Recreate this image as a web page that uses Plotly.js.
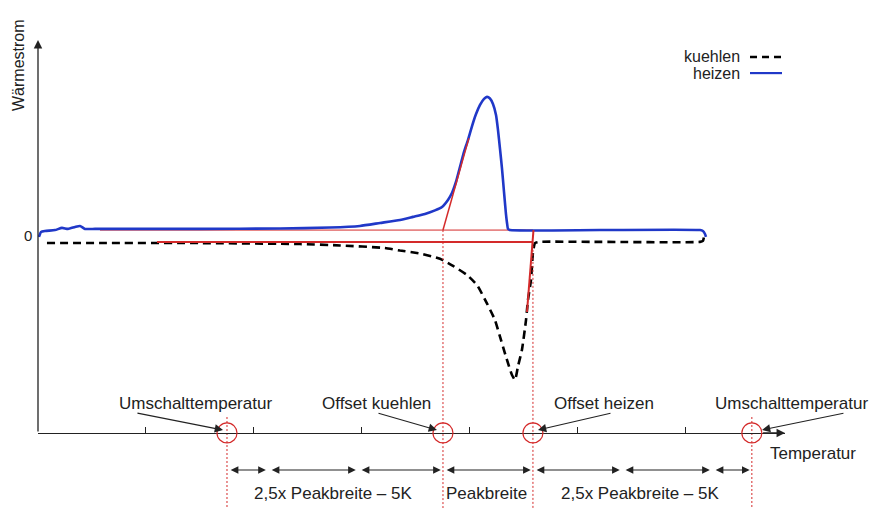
<!DOCTYPE html>
<html><head><meta charset="utf-8">
<script src="https://cdn.plot.ly/plotly-3.0.1.min.js"></script>
<style>html,body{margin:0;padding:0;background:#fff}#chart{width:872px;height:508px}</style>
</head><body><div id="chart"></div>
<script>
// Temperature axis (arbitrary units, 1 = one tick step) and heat flow (arbitrary units)
const heizenT = [0.009,0.028,0.065,0.157,0.222,0.278,0.343,0.389,0.435,0.528,0.759,1.5,2.241,2.704,2.981,3.167,3.352,3.472,3.583,3.676,3.741,3.796,3.833,3.870,3.907,3.944,3.981,4.019,4.056,4.093,4.130,4.157,4.185,4.213,4.241,4.259,4.278,4.296,4.315,4.333,4.343,4.352,4.370,5.204,6.130,6.157,6.176,6.185];
const heizenH = [-0.05,0.20,0.25,0.30,0.41,0.36,0.46,0.51,0.36,0.36,0.36,0.36,0.38,0.43,0.51,0.66,0.81,0.97,1.12,1.30,1.47,1.83,2.18,2.74,3.50,4.26,4.87,5.58,6.19,6.65,6.96,7.06,6.98,6.70,6.14,5.40,4.42,3.45,2.24,1.12,0.66,0.36,0.30,0.30,0.30,0.25,0.10,-0.05];
const kuehlenT = [0.083,0.574,1.5,2.426,2.796,3.213,3.352,3.537,3.722,3.843,3.972,4.065,4.157,4.231,4.278,4.333,4.389,4.417,4.444,4.481,4.519,4.537,4.565,4.583,4.602,4.648,5.204,6.130,6.157,6.167,6.176];
const kuehlenH = [-0.36,-0.36,-0.36,-0.41,-0.48,-0.61,-0.74,-0.89,-1.16,-1.52,-1.98,-2.49,-3.42,-4.26,-5.11,-6.12,-7.06,-7.31,-6.63,-5.79,-4.26,-3.25,-2.23,-0.86,-0.36,-0.30,-0.30,-0.30,-0.25,-0.05,0.10];
// construction lines
const baseHeizenT = [0.574, 4.583], baseHeizenH = [0.30, 0.30];
const baseKuehlenT = [1.102, 4.583], baseKuehlenH = [-0.30, -0.30];
const tanHeizenT = [3.75, 3.99], tanHeizenH = [0.30, 4.97];
const tanKuehlenT = [4.588, 4.528], tanKuehlenH = [0.30, -3.86];
// characteristic temperatures
const markT = [1.75, 3.75, 4.583, 6.61];
const markTop = [-9.19, 0.30, -0.30, -9.19];
const markNames = ["Umschalttemperatur", "Offset kuehlen", "Offset heizen", "Umschalttemperatur"];
// dimension segments
const segT = [1.75, 2.13, 2.963, 3.75, 4.583, 5.407, 6.241, 6.61];
const tickT = [1, 2, 3, 4, 5, 6];
const axisY = -10, dimY = -11.88, bottomY = -13.81, topY = 11.98, xMax = 6.917, yTop = 9.95;

const RED = '#d42a2a', BLUE = '#2038c8', INK = '#222';
const FONT = {family: 'Liberation Sans, Arial, sans-serif', size: 17, color: INK};

const dropX = [], dropY = [];
markT.forEach((t, i) => { dropX.push(t, t, null); dropY.push(markTop[i], bottomY, null); });

const traces = [
  {x: baseHeizenT, y: baseHeizenH, mode: 'lines', line: {color: RED, width: 1}},
  {x: kuehlenT, y: kuehlenH, mode: 'lines', line: {color: '#000', width: 2.6, dash: '8px,5px', shape: 'spline', smoothing: 0.5}},
  {x: baseKuehlenT, y: baseKuehlenH, mode: 'lines', line: {color: RED, width: 2}},
  {x: heizenT, y: heizenH, mode: 'lines', line: {color: BLUE, width: 2.6, shape: 'spline', smoothing: 0.5}},
  {x: tanHeizenT, y: tanHeizenH, mode: 'lines', line: {color: RED, width: 1.5}},
  {x: tanKuehlenT, y: tanKuehlenH, mode: 'lines', line: {color: RED, width: 2}},
  {x: dropX, y: dropY, mode: 'lines', line: {color: RED, width: 1, dash: '2px,2px'}}
];

const shapes = markT.map(t => ({
  type: 'circle', xref: 'x', yref: 'y', xsizemode: 'pixel', ysizemode: 'pixel',
  xanchor: t, yanchor: axisY, x0: -10, x1: 10, y0: -10, y1: 10,
  line: {color: RED, width: 1.2}
}));
// legend keys
shapes.push({type: 'line', xref: 'x', yref: 'y', x0: 6.593, x1: 6.889, y0: 9.09, y1: 9.09, line: {color: '#000', width: 2.6, dash: '7px,5px'}});
shapes.push({type: 'line', xref: 'x', yref: 'y', x0: 6.593, x1: 6.889, y0: 8.27, y1: 8.27, line: {color: BLUE, width: 2.2}});

const ann = [];
const arrow = (x, y, ax, ay, opts) => Object.assign({
  x: x, y: y, ax: ax, ay: ay, xref: 'x', yref: 'y', axref: 'x', ayref: 'y', text: '',
  showarrow: true, arrowhead: 2, arrowsize: 1.4, arrowwidth: 1.1, arrowcolor: INK, standoff: 0, startstandoff: 0
}, opts || {});
// axes arrows
ann.push(arrow(0, yTop, 0, axisY, {arrowwidth: 1.3, arrowsize: 1.3}));
ann.push(arrow(xMax, axisY, 6.7, axisY, {arrowwidth: 1.3, arrowsize: 1.3}));
// label arrows
const labelY = -8.48, tailY = -8.98;
const labelX = [1.454, 3.130, 5.241, 6.25];
const labelAnchor = ['center', 'center', 'center', 'left'];
const tailX = [0.907, 3.139, 5.315, 7.472];
const headX = [1.713, 3.694, 4.630, 6.704];
markNames.forEach((n, i) => {
  ann.push({x: labelX[i], y: labelY, xref: 'x', yref: 'y', text: n, showarrow: false, xanchor: labelAnchor[i], yanchor: 'middle', font: FONT});
  ann.push(arrow(headX[i], -9.85, tailX[i], tailY, {arrowsize: 1.5}));
});
// dimension arrows
for (let i = 0; i < segT.length - 1; i++) {
  ann.push(arrow(segT[i + 1] - 0.02, dimY, segT[i] + 0.02, dimY, {arrowside: 'end+start', arrowsize: 1.4}));
}
const dimLabels = ['2,5x Peakbreite \u2013 5K', 'Peakbreite', '2,5x Peakbreite \u2013 5K'];
const dimLabelX = [2.731, 4.157, 5.574];
dimLabels.forEach((t, i) => ann.push({x: dimLabelX[i], y: -13.05, xref: 'x', yref: 'y', text: t, showarrow: false, font: FONT}));
// axis titles, zero label, legend
ann.push({x: 6.759, y: -11.02, xref: 'x', yref: 'y', text: 'Temperatur', showarrow: false, xanchor: 'left', font: FONT});
ann.push({x: 0.0206, y: 0.872, xref: 'paper', yref: 'paper', text: 'Wärmestrom', textangle: -90, showarrow: false, xanchor: 'center', yanchor: 'middle', font: Object.assign({}, FONT, {size: 16})});
ann.push({x: 0.0321, y: 0, xref: 'paper', yref: 'y', text: '0', showarrow: false, xanchor: 'center', yanchor: 'middle', font: Object.assign({}, FONT, {size: 15})});
ann.push({x: 6.52, y: 9.09, xref: 'x', yref: 'y', text: 'kuehlen', showarrow: false, xanchor: 'right', font: Object.assign({}, FONT, {size: 16})});
ann.push({x: 6.52, y: 8.27, xref: 'x', yref: 'y', text: 'heizen', showarrow: false, xanchor: 'right', font: Object.assign({}, FONT, {size: 16})});

const layout = {
  width: 872, height: 508, margin: {l: 0, r: 0, t: 0, b: 0},
  paper_bgcolor: '#fff', plot_bgcolor: '#fff', showlegend: false,
  xaxis: {domain: [38 / 872, 785 / 872], range: [0, xMax], anchor: 'free', position: 75 / 508,
          showline: true, linecolor: INK, linewidth: 1.3, ticks: 'inside', ticklen: 6, tickwidth: 1,
          tickcolor: INK, tickvals: tickT, showticklabels: false, showgrid: false, zeroline: false},
  yaxis: {domain: [0, 1], range: [bottomY, topY], visible: false, showgrid: false, zeroline: false},
  shapes: shapes, annotations: ann
};
Plotly.newPlot('chart', traces, layout, {staticPlot: true, displayModeBar: false});
</script>
</body></html>
